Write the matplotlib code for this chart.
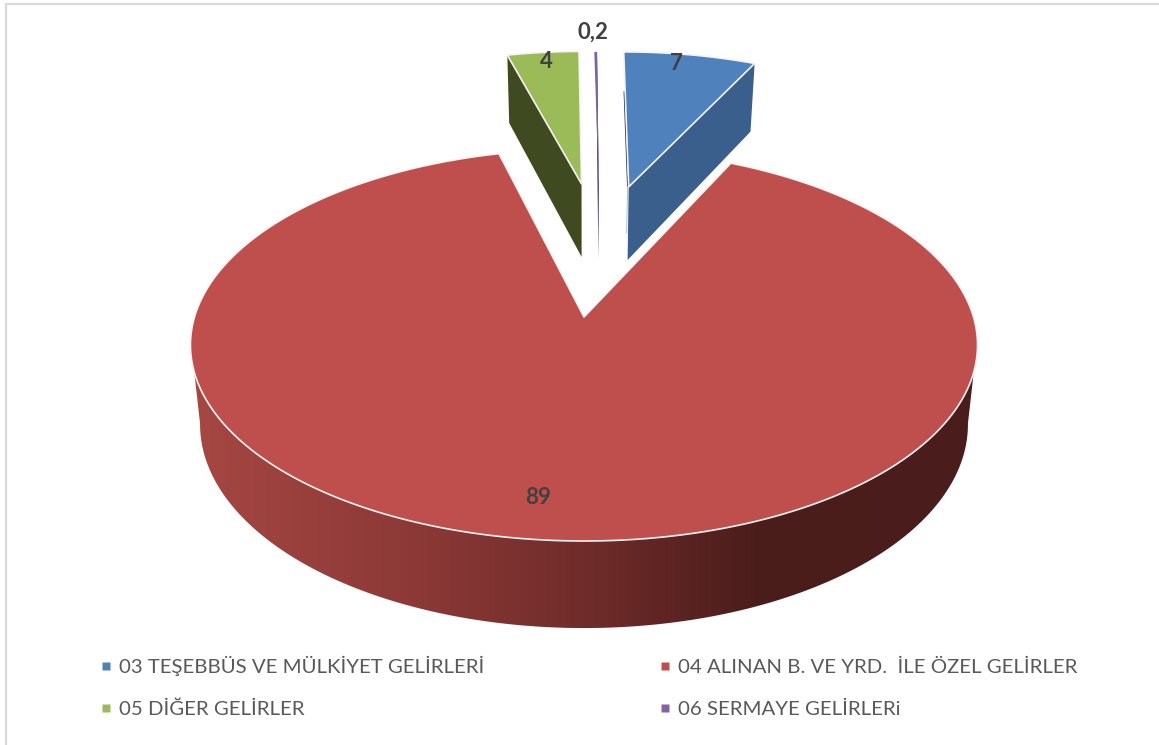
import numpy as np
import matplotlib
matplotlib.use("Agg")
from matplotlib import pyplot as plt
from matplotlib.colors import LinearSegmentedColormap
from matplotlib.lines import Line2D
from matplotlib.patches import Polygon

plt.rcParams['font.family'] = ['Lato', 'DejaVu Sans']

# data
categories = ['03 TEŞEBBÜS VE MÜLKİYET GELİRLERİ', '04 ALINAN B. VE YRD.  İLE ÖZEL GELİRLER',
              '05 DİĞER GELİRLER', '06 SERMAYE GELİRLERi']
values = [7.0, 89.0, 3.85, 0.15]
value_labels = ['7', '89', '4', '0,2']

# looks
top_colors = ['#4f81bd', '#be4f4c', '#9bbb59', '#8064a2']
wall_colors = ['#3a5f8c', '#4a1c1a', '#3f4a20', '#2a2050']
text_color = '#404040'
legend_color = '#595959'

# perspective of the excel pie: disc coords (u, v) -> picture pixels
CX = 584
TOP = dict(a=146.7, b=317, k=389.5)
BOTTOM = dict(a=143.1, b=395.2, k=380)
C = -0.1429

# how far each slice is pulled out, in disc coords, and its radius
explode = [(0.127, -0.75), (0, 0), (-0.007, -0.769), (0.042, -0.75)]
radius = [0.97, 1.0, 0.955, 0.97]
label_pos = [(676, 64), (538, 497), (546, 62), (593, 32)]


def project(u, v, plane):
    w = 1 + C * v
    return CX + plane['k'] * u / w, (plane['a'] * v + plane['b']) / w


def slice_points(i, t0, t1, plane):
    # outline of one slice between angles t0 and t1 (clockwise from 12 o'clock)
    u0, v0 = explode[i]
    t = np.linspace(t0, t1, 300)
    u = np.r_[u0, u0 + radius[i] * np.sin(t)]
    v = np.r_[v0, v0 - radius[i] * np.cos(t)]
    return np.column_stack(project(u, v, plane))


def rim(t, plane):
    return np.column_stack(project(np.sin(t), -np.cos(t), plane))


def wall(i, t, color):
    # flat cut face of an exploded slice
    top = slice_points(i, t, t, TOP)[[0, 1]]
    bot = slice_points(i, t, t, BOTTOM)[[1, 0]]
    ax.add_patch(Polygon(np.r_[top, bot], closed=True, fc=color, ec='none', zorder=2))


fig = plt.figure(figsize=(11.59, 7.45), dpi=100)
ax = fig.add_axes([0, 0, 1, 1])
ax.set_xlim(0, 1159)
ax.set_ylim(745, 0)
ax.axis('off')

# frame of the screenshot, only top and left
ax.plot([5.5, 5.5, 1159], [745, 3.5, 3.5], color='#d9d9d9', lw=1.6, zorder=1)

edges = np.r_[0, np.cumsum(values)] / np.sum(values) * 2 * np.pi
# slices run from 12 o'clock clockwise, the small ones before it are negative
starts_s = [edges[0], edges[1], edges[2] - 2 * np.pi, edges[3] - 2 * np.pi]
ends_s = [edges[1], edges[2], edges[3] - 2 * np.pi, edges[4] - 2 * np.pi]

# red side with its gradient
t_top = np.linspace(np.radians(106), np.radians(254), 300)
t_bot = np.linspace(np.radians(262), np.radians(98), 300)
side = np.r_[rim(t_top, TOP), rim(t_bot, BOTTOM)]
side_patch = Polygon(side, closed=True, fc='none', ec='none', zorder=2)
ax.add_patch(side_patch)
side_cmap = LinearSegmentedColormap.from_list(
    'side', [(0, '#a64743'), (0.3, '#8a3836'), (0.5, '#702c2a'), (0.72, '#4b1d1b'), (1, '#4a1e1d')])
img = ax.imshow(np.linspace(0, 1, 512)[None, :], cmap=side_cmap, aspect='auto',
                extent=[191, 978, 640, 340], zorder=2)
img.set_clip_path(side_patch)
ax.set_xlim(0, 1159)
ax.set_ylim(745, 0)

# cut faces
wall(0, ends_s[0], wall_colors[0])
wall(2, starts_s[2], wall_colors[2])
wall(3, ends_s[3], wall_colors[3])

# thin sliver on the left of the blue slice: dark down to the tip, pale under it
blue_top = slice_points(0, starts_s[0], starts_s[0], TOP)
blue_bot = slice_points(0, starts_s[0], starts_s[0], BOTTOM)
ax.plot([blue_top[1, 0] + 0.5, blue_top[0, 0] - 1], [blue_top[1, 1] + 40, blue_top[0, 1]],
        color='#1f3552', lw=0.9, zorder=2)
ax.plot([blue_top[0, 0] - 1, blue_bot[0, 0] - 1], [blue_top[0, 1], blue_bot[0, 1] - 27],
        color='#b9c6d6', lw=0.8, zorder=2)

# top faces
for i in range(4):
    pts = slice_points(i, starts_s[i], ends_s[i], TOP)
    lw = 0 if i == 3 else 1.2
    ax.add_patch(Polygon(pts, closed=True, fc=top_colors[i], ec='#f4f4f4' if lw else 'none',
                         lw=lw, joinstyle='round', zorder=3))

for lab, (x, y) in zip(value_labels, label_pos):
    ax.text(x, y, lab, color=text_color, fontsize=16, fontweight='bold',
            ha='center', va='center', zorder=5)

handles = [Line2D([], [], ls='none', marker='s', ms=5.5, mfc=c, mec='none') for c in top_colors]
# matplotlib fills columns first, so hand the entries over in that order
order = [0, 2, 1, 3]
ax.legend([handles[i] for i in order], [categories[i] for i in order], ncol=2,
          loc='upper left', bbox_to_anchor=(98 / 1159, 1 - 656 / 745), frameon=False,
          fontsize=14.7, labelcolor=legend_color, handlelength=0.8, handletextpad=0.245,
          columnspacing=8.42, labelspacing=1.2, borderpad=0, borderaxespad=0)

fig.savefig('out.png', dpi=100)
